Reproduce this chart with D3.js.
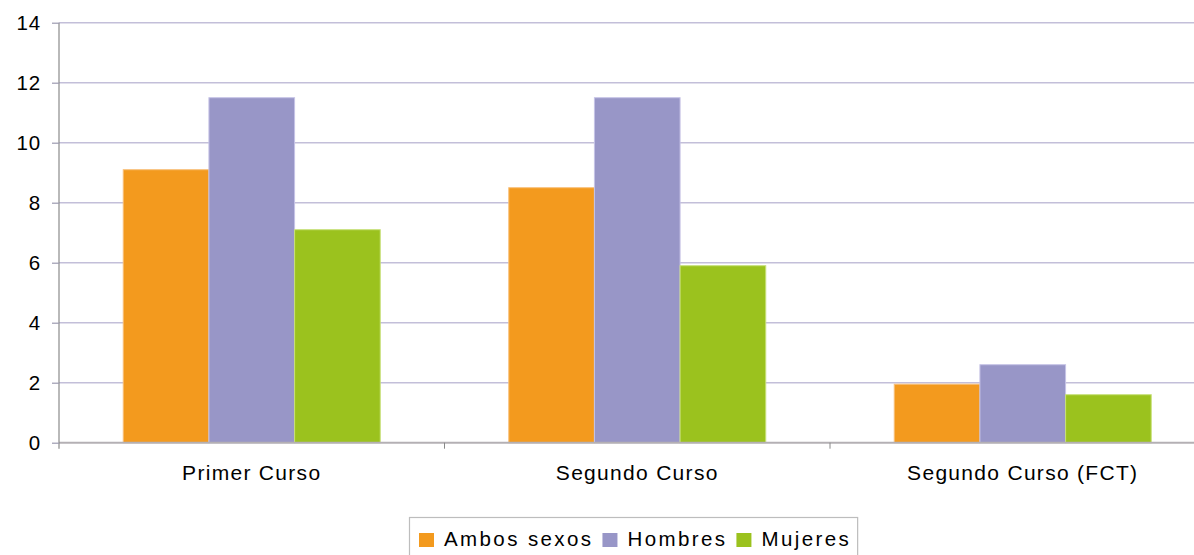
<!DOCTYPE html>
<html><head><meta charset="utf-8">
<script src="https://cdn.jsdelivr.net/npm/d3@7"></script>
<style>body{margin:0;background:#fff}svg{display:block}text{font-family:"Liberation Sans",Arial,sans-serif;fill:#000}</style>
</head><body><svg id="c" width="1194" height="555"></svg>
<script>
const categories = ["Primer Curso","Segundo Curso","Segundo Curso (FCT)"];
const seriesNames = ["Ambos sexos","Hombres","Mujeres"];
const ambos = [9.1, 8.5, 1.95];
const hombres = [11.5, 11.5, 2.6];
const mujeres = [7.1, 5.9, 1.6];
const yTicks = [0,2,4,6,8,10,12,14];
const colors = ["#F39A1E","#9896C7","#9BC21E"];
const strokes = ["#F8C07A","#C6C4E6","#C8E07A"];
const values = [ambos, hombres, mujeres];

(function(){
const svg = d3.select("#c");
const W = 1194, H = 555;
const plotLeft = 59, plotTop = 22.7, plotBottom = 442.7;
const band = 385.5;
const x = d3.scaleBand().domain(categories).range([plotLeft, plotLeft + band*3]).paddingInner(0).paddingOuter(0);
const y = d3.scaleLinear().domain([0,14]).range([plotBottom, plotTop]);
const xs = d3.scaleBand().domain(seriesNames).range([band/6, band*5/6]).padding(0);

svg.append("defs").append("clipPath").attr("id","clip").append("rect").attr("x",0).attr("y",0).attr("width",W).attr("height",H);
const g = svg.append("g").attr("clip-path","url(#clip)");

g.append("g").selectAll("line").data(yTicks.filter(d=>d>0)).join("line")
  .attr("x1", plotLeft).attr("x2", plotLeft + band*3)
  .attr("y1", d=>y(d)).attr("y2", d=>y(d))
  .attr("stroke","#C3BFD9").attr("stroke-width",1.6);

categories.forEach((c,i)=>{
  seriesNames.forEach((s,j)=>{
    g.append("rect")
      .attr("x", x(c) + xs(s))
      .attr("y", y(values[j][i]))
      .attr("width", xs.bandwidth())
      .attr("height", y(0) - y(values[j][i]))
      .attr("fill", colors[j])
      .attr("stroke", strokes[j]).attr("stroke-width",1);
  });
});

g.append("line").attr("x1", plotLeft).attr("x2", plotLeft+band*3).attr("y1", y(0)).attr("y2", y(0))
  .attr("stroke","#B4B0B4").attr("stroke-width",2);
g.append("g").selectAll("line").data(categories.slice(1)).join("line")
  .attr("x1", d=>x(d)).attr("x2", d=>x(d)).attr("y1", y(0)).attr("y2", y(0)+6)
  .attr("stroke","#888").attr("stroke-width",1);

const ya = svg.append("g").attr("transform",`translate(${plotLeft},0)`)
  .call(d3.axisLeft(y).tickValues(yTicks).tickSize(7).tickPadding(11).tickSizeOuter(0));
ya.select(".domain").attr("stroke","#8A8A8A").attr("stroke-width",1.2).attr("d",`M0,${plotTop}V${plotBottom+6}`);
ya.selectAll(".tick line").attr("stroke","#9C9AB0").attr("stroke-width",1.2);
ya.selectAll(".tick text").attr("font-size","20.5px").attr("letter-spacing","0.8px")
  .attr("font-family","'Liberation Sans',Arial,sans-serif").attr("fill","#000");

svg.append("g").selectAll("text").data(categories).join("text")
  .attr("x", d=>x(d)+band/2).attr("y", 480)
  .attr("text-anchor","middle").attr("font-size","21px").attr("letter-spacing","1.3px")
  .text(d=>d);

const lg = svg.append("g");
let cx = 419;
seriesNames.forEach((s,j)=>{
  lg.append("rect").attr("x",cx).attr("y",533).attr("width",15).attr("height",14).attr("fill",colors[j]);
  const t = lg.append("text").attr("x",cx+25).attr("y",546).attr("font-size","20.5px").attr("letter-spacing","2.4px").text(s);
  const w = t.node().getComputedTextLength();
  cx = cx + 25 + w + 9;
});
lg.insert("rect",":first-child").attr("x",409.5).attr("y",517.5).attr("width",cx-409-3).attr("height",45)
  .attr("fill","#fff").attr("stroke","#BDBDBD").attr("stroke-width",1.2);
})();
</script></body></html>
